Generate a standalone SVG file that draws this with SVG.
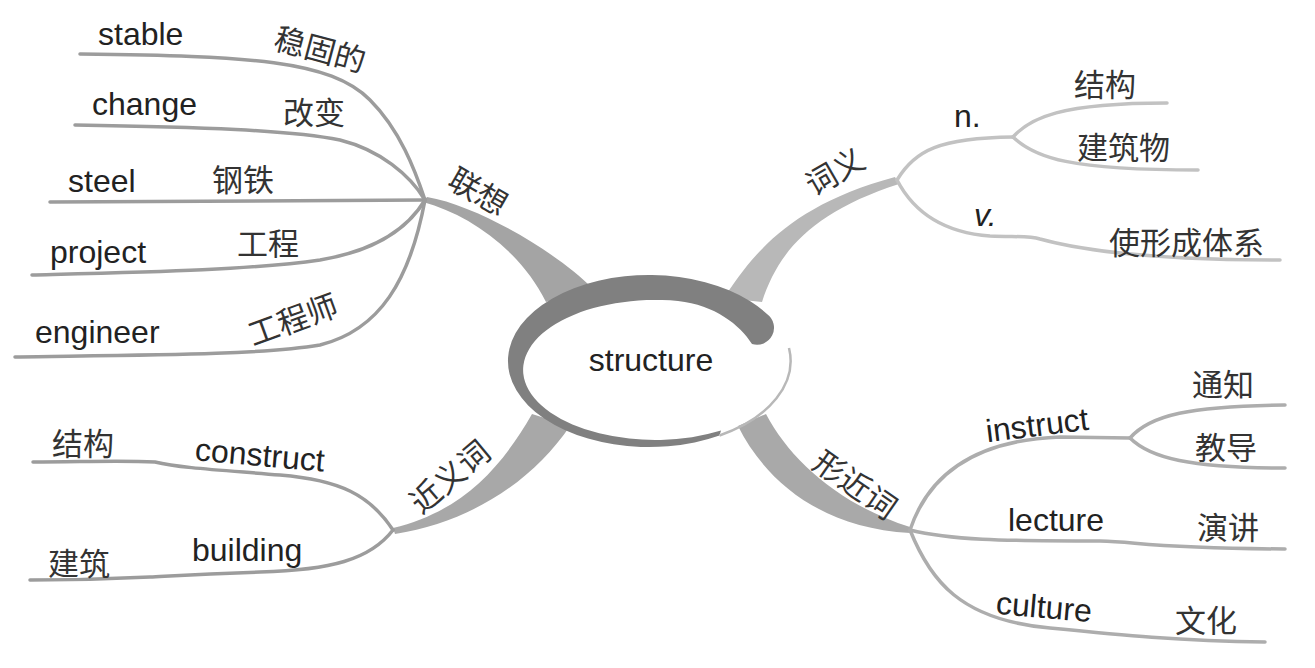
<svg xmlns="http://www.w3.org/2000/svg" width="1315" height="668" viewBox="0 0 1315 668">
<style>
.en{font-family:"Liberation Sans",Arial,sans-serif;font-size:32px;fill:#222}
.zh{font-family:"Noto Sans CJK SC","Noto Sans",sans-serif;font-size:31px;fill:#333}
.l1{fill:none;stroke:#9c9c9c;stroke-width:3.5;stroke-linecap:round}
.l2{fill:none;stroke:#c2c2c2;stroke-width:3.5;stroke-linecap:round}
.l3{fill:none;stroke:#adadad;stroke-width:3.5;stroke-linecap:round}
.mid{text-anchor:middle}
</style>
<rect width="1315" height="668" fill="#fff"/>
<g id="connectors">
<path d="M423 202 C470 215 520 250 546 302 L592 288 C560 255 480 206 427 197 Z" fill="#a4a4a4"/>
<path d="M724 298 C752 255 790 205 895 177 L899 184 C812 212 778 252 762 302 Z" fill="#b8b8b8"/>
<path d="M393 528 C460 512 500 470 532 414 L570 426 C532 482 470 522 395 534 Z" fill="#a8a8a8"/>
<path d="M738 426 C765 480 820 528 910 533 L910 527 C840 505 790 460 766 414 Z" fill="#a9a9a9"/>
<path class="l1" d="M80 54 C250 56 330 60 370 100 C400 130 415 170 425 200"/>
<path class="l1" d="M75 125 C200 127 290 130 340 140 C380 150 410 175 425 200"/>
<path class="l1" d="M50 202 L425 200"/>
<path class="l1" d="M32 275 C150 272 250 270 320 260 C380 250 410 225 425 200"/>
<path class="l1" d="M15 357 C150 355 260 355 320 345 C380 330 410 280 425 200"/>
<path class="l2" d="M897 180 C915 150 940 138 1013 137"/>
<path class="l2" d="M1013 137 C1030 118 1060 103 1167 103"/>
<path class="l2" d="M1013 137 C1035 158 1070 170 1198 170"/>
<path class="l2" d="M897 180 C910 205 935 232 990 236 C1020 237 1030 236 1040 239 C1080 250 1150 260 1280 260"/>
<path class="l1" d="M393 530 C370 495 340 480 280 475 C220 470 180 468 155 462 C120 460 80 462 33 462"/>
<path class="l1" d="M393 530 C370 560 330 570 260 572 C200 574 170 576 150 577 C110 579 70 580 30 580"/>
<path class="l3" d="M910 530 C930 470 980 440 1060 437 L1130 438"/>
<path class="l3" d="M1130 438 C1150 415 1190 406 1285 405"/>
<path class="l3" d="M1130 438 C1150 458 1190 468 1285 468"/>
<path class="l3" d="M910 530 C950 540 1000 541 1100 541 C1140 542 1150 548 1285 549"/>
<path class="l3" d="M910 530 C930 580 960 620 1050 628 C1120 635 1180 641 1265 642"/>
</g>
<g id="center">
<path d="M767 314 A141 86 0 1 0 719.5 435.5 L721 430.6 A132 70 0 1 1 678 301 C715 305 740 325 752 344 A17 17 0 0 0 767 314 Z" fill="#808080"/>
<path d="M789 348 A141 86 0 0 1 719.5 435.5" fill="none" stroke="#b8b8b8" stroke-width="2.5"/>
<text class="en mid" x="651" y="371">structure</text>
</g>
<g id="node-lianxiang"><text class="zh mid" x="478" y="203" transform="rotate(30 478 192)">联想</text></g>
<g id="node-stable"><text class="en" x="98" y="45">stable</text><text class="zh mid" x="320" y="61" transform="rotate(15 320 50)">稳固的</text></g>
<g id="node-change"><text class="en" x="92" y="115">change</text><text class="zh" x="283" y="124">改变</text></g>
<g id="node-steel"><text class="en" x="68" y="192">steel</text><text class="zh" x="212" y="191">钢铁</text></g>
<g id="node-project"><text class="en" x="50" y="263">project</text><text class="zh" x="237" y="255">工程</text></g>
<g id="node-engineer"><text class="en" x="35" y="343">engineer</text><text class="zh mid" x="293" y="331" transform="rotate(-20 293 320)">工程师</text></g>
<g id="node-ciyi"><text class="zh mid" x="835" y="183" transform="rotate(-30 835 172)">词义</text></g>
<g id="node-n"><text class="en" x="954" y="127">n.</text><text class="zh" x="1074" y="96">结构</text><text class="zh" x="1077" y="159">建筑物</text></g>
<g id="node-v"><text class="en" x="974" y="226" font-style="italic">v.</text><text class="zh" x="1109" y="254">使形成体系</text></g>
<g id="node-jinyici"><text class="zh mid" x="450" y="488" transform="rotate(-40 450 477)">近义词</text></g>
<g id="node-construct"><text class="zh" x="52" y="455">结构</text><text class="en mid" x="260" y="466" transform="rotate(5 260 455)">construct</text></g>
<g id="node-building"><text class="zh" x="48" y="575">建筑</text><text class="en" x="192" y="561">building</text></g>
<g id="node-xingjinci"><text class="zh mid" x="855" y="496" transform="rotate(35 855 485)">形近词</text></g>
<g id="node-instruct"><text class="en mid" x="1037" y="436" transform="rotate(-7 1037 425)">instruct</text><text class="zh" x="1192" y="396">通知</text><text class="zh" x="1195" y="459">教导</text></g>
<g id="node-lecture"><text class="en" x="1008" y="531">lecture</text><text class="zh" x="1197" y="539">演讲</text></g>
<g id="node-culture"><text class="en mid" x="1044" y="618" transform="rotate(5 1044 607)">culture</text><text class="zh" x="1175" y="632">文化</text></g>
</svg>
